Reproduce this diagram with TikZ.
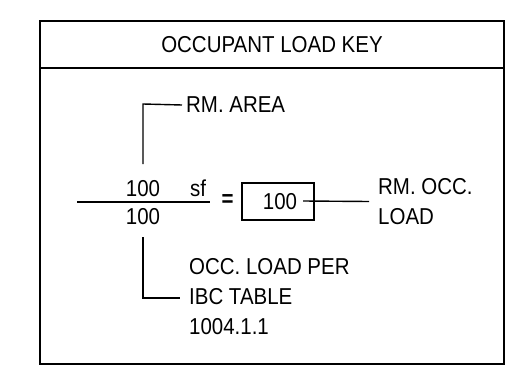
\documentclass[tikz,border=0pt]{standalone}
\usepackage{fontspec}
\setmainfont{Liberation Sans}[FakeStretch=0.89]
\begin{document}
\begin{tikzpicture}[x=1pt,y=-1pt,
  lbl/.style={inner sep=0pt, font=\fontsize{23}{30}\selectfont},
  thinline/.style={line width=1.4pt},
  frame/.style={line width=2.6pt}]
\useasboundingbox (0,0) rectangle (526,377);
% outer frame and header
\draw[frame] (40,21) rectangle (504,364);
\draw[line width=2.2pt] (40,68) -- (504,68);
\node[lbl] (title) at (272,45) {OCCUPANT LOAD KEY};
% fraction
\node[lbl, anchor=base] (num) at (143,196) {100};
\node[lbl, anchor=base west] (sf) at (190,196) {sf};
\node[lbl, anchor=base] (den) at (143,224) {100};
\coordinate (fl) at (77,202);
\coordinate (fr) at (210,202);
\draw[line width=1.5pt] (fl) -- (fr);
\node[lbl, font=\fontsize{23}{30}\selectfont\bfseries] (eq) at (227.5,201) {=};
% result box
\node[draw, thinline, minimum width=72pt, minimum height=37pt, inner sep=0pt] (box) at (278,201.5) {};
\node[lbl] (res) at (280,201.5) {100};
\coordinate (boxin) at (303,201);
% RM. AREA leader
\node[lbl, anchor=west] (area) at (186,105) {RM. AREA};
\coordinate (at1) at (143,164);
\coordinate (at2) at (143,104);
\draw[thinline] (at1) -- (at2) -- (area.west -| 182,0);
% RM. OCC. LOAD leader
\node[lbl, anchor=west, align=left] (occ) at (378,201.5) {RM. OCC.\\LOAD};
\draw[thinline] (boxin) -- (occ.west -| 369,0);
% OCC. LOAD PER leader
\node[lbl, anchor=north west, align=left] (per) at (189,258) {OCC. LOAD PER\\IBC TABLE\\1004.1.1};
\coordinate (ab1) at (143,237);
\coordinate (ab2) at (143,298);
\coordinate (ab3) at (180,298);
\draw[thinline] (ab1) -- (ab2) -- (ab3);
\end{tikzpicture}
\end{document}
